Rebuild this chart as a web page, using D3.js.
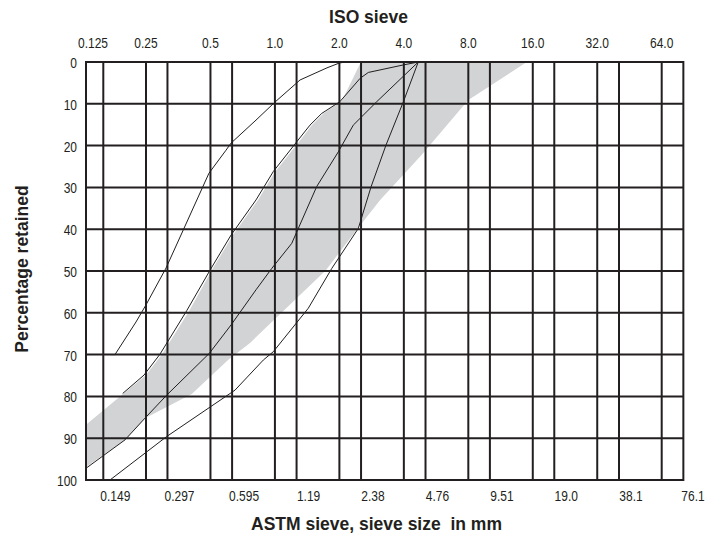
<!DOCTYPE html>
<html>
<head>
<meta charset="utf-8">
<style>
    body { margin: 0; background: #fff; }
    svg { display: block; }
    .tick-label {
        font-family: 'Liberation Sans', Arial, sans-serif;
        font-size: 15px;
        fill: #231f20;
    }
    .axis-title {
        font-family: 'Liberation Sans', Arial, sans-serif;
        font-weight: bold;
        font-size: 17.5px;
        fill: #231f20;
    }
</style>
</head>
<body>
<svg width="705" height="536"></svg>

<script src="https://d3js.org/d3.v7.min.js"></script>
<script>
    // sieve sizes (mm)
    let isoTicks = [0.125, 0.25, 0.5, 1.0, 2.0, 4.0, 8.0, 16.0, 32.0, 64.0]
    let isoLabels = ["0.125", "0.25", "0.5", "1.0", "2.0", "4.0", "8.0", "16.0", "32.0", "64.0"]
    let astmTicks = [0.149, 0.297, 0.595, 1.19, 2.38, 4.76, 9.51, 19.0, 38.1, 76.1]
    let astmLabels = ["0.149", "0.297", "0.595", "1.19", "2.38", "4.76", "9.51", "19.0", "38.1", "76.1"]
    let pctTicks = [0, 10, 20, 30, 40, 50, 60, 70, 80, 90, 100]

    // grading curves: [sieve size mm, percentage retained]
    let curveA = [[0.1706, 70], [0.1791, 70], [0.2245, 62.2], [0.25, 58.1], [0.31, 49.3], [0.492, 26.6],
        [0.591, 21.1], [0.624, 19.4], [0.816, 13.9], [1.0, 9.6], [1.31, 4.3], [1.75, 1.4], [2.01, 0.2], [2.17, 0]]
    let curveB = [[0.1946, 79.3], [0.2447, 74.9], [0.2906, 69.9], [0.3873, 59.5], [0.503, 49.4], [0.624, 41.4],
        [0.816, 33.0], [0.983, 26.2], [1.264, 19.1], [1.458, 15.1], [1.654, 12.3], [2.01, 9.5], [2.50, 3.9],
        [2.73, 2.5], [3.98, 0.7], [4.67, 0]]
    let curveC = [[0.1311, 97.2], [0.1995, 90.4], [0.2473, 85.2], [0.3123, 79.7], [0.4938, 69.7], [0.624, 62.9],
        [0.816, 54.5], [0.966, 49.4], [1.198, 43.4], [1.567, 29.8], [1.977, 21.5], [2.323, 15.1], [2.988, 9.5], [4.67, 0]]
    let curveD = [[0.1697, 100], [0.3123, 89.6], [0.651, 78.5], [0.8825, 71.3], [0.983, 69.3], [1.432, 58.9],
        [1.842, 49.4], [2.452, 39.8], [2.81, 29.9], [3.30, 19.9], [3.98, 9.5], [4.67, 0]]

    // grading envelope (grey band): left edge bottom -> top, then right edge top -> bottom
    let bandLeft = [[0.1311, 86.8], [0.1953, 79.4], [0.25, 74.9], [0.297, 69.9], [0.397, 59.6], [0.514, 49.3],
        [0.637, 41.4], [0.834, 33.0], [1.0, 26.3], [1.296, 19.1], [1.49, 15.1], [1.695, 12.2], [2.057, 9.3], [2.52, 0]]
    let bandRight = [[15.0, 0], [8.0, 9.1], [4.85, 22.2], [3.10, 33.0], [2.42, 40.0], [1.73, 49.8], [0.765, 67.2],
        [0.604, 71.3], [0.409, 79.4], [0.2473, 85.2], [0.1995, 90.4], [0.1311, 96.9]]

    let svg = d3.select("svg")
    let ink = "#231f20"
    let narrow = 0.8 // condensed look of the tick labels

    let xIso = d3.scaleLog().domain([0.25, 64]).range([146, 661.7])
    let xAstm = d3.scaleLog().domain([0.149, 38.1]).range([103.3, 619])
    let y = d3.scaleLinear().domain([0, 100]).range([62, 480])

    let left = 86
    let right = xAstm(76.1)

    let line = d3.line()
        .x(d => xIso(d[0]))
        .y(d => y(d[1]))

    // grey band
    svg.append("path")
        .attr("d", line(bandLeft.concat(bandRight)) + "Z")
        .style("fill", "#d1d3d4")
        .style("stroke", "none")

    // grid
    let grid = svg.append("g")
        .style("stroke", ink)
        .style("stroke-width", 2)

    grid.selectAll(".v-iso")
        .data(isoTicks.filter(d => xIso(d) > left + 2))
        .join("line")
        .attr("x1", d => xIso(d))
        .attr("x2", d => xIso(d))
        .attr("y1", y(0))
        .attr("y2", y(100))

    grid.selectAll(".v-astm")
        .data(astmTicks.slice(0, -1))
        .join("line")
        .attr("x1", d => xAstm(d))
        .attr("x2", d => xAstm(d))
        .attr("y1", y(0))
        .attr("y2", y(100))

    grid.selectAll(".h")
        .data(pctTicks.slice(1, -1))
        .join("line")
        .attr("x1", left)
        .attr("x2", right)
        .attr("y1", d => y(d))
        .attr("y2", d => y(d))

    grid.append("rect")
        .attr("x", left)
        .attr("y", y(0))
        .attr("width", right - left)
        .attr("height", y(100) - y(0))
        .style("fill", "none")

    // grading curves
    svg.selectAll(".curve")
        .data([curveA, curveB, curveC, curveD])
        .join("path")
        .attr("class", "curve")
        .attr("d", line)
        .style("fill", "none")
        .style("stroke", ink)
        .style("stroke-width", 1)
        .style("stroke-linejoin", "round")

    // ISO labels (top)
    svg.selectAll(".iso-label")
        .data(isoTicks)
        .join("text")
        .attr("class", "tick-label")
        .attr("transform", d => `translate(${Math.max(xIso(d), left + 7)},48) scale(${narrow},1)`)
        .attr("text-anchor", "middle")
        .text((d, i) => isoLabels[i])

    // ASTM labels (bottom), the last one kept inside the page
    svg.selectAll(".astm-label")
        .data(astmTicks)
        .join("text")
        .attr("class", "tick-label")
        .attr("transform", d => `translate(${Math.min(xAstm(d) + 12, 693)},501) scale(${narrow},1)`)
        .attr("text-anchor", "middle")
        .text((d, i) => astmLabels[i])

    // percentage labels
    svg.selectAll(".pct-label")
        .data(pctTicks)
        .join("text")
        .attr("class", "tick-label")
        .attr("transform", d => `translate(77,${y(d) + 6}) scale(${narrow},1)`)
        .attr("text-anchor", "end")
        .text(d => d)

    // titles
    svg.append("text")
        .attr("class", "axis-title")
        .attr("x", 368.5)
        .attr("y", 23)
        .attr("text-anchor", "middle")
        .text("ISO sieve")

    svg.append("text")
        .attr("class", "axis-title")
        .attr("x", 376.5)
        .attr("y", 530)
        .attr("text-anchor", "middle")
        .text("ASTM sieve, sieve size\u00a0 in mm")

    svg.append("text")
        .attr("class", "axis-title")
        .attr("transform", "translate(28,269) rotate(-90)")
        .attr("text-anchor", "middle")
        .text("Percentage retained")
</script>
</body>
</html>
